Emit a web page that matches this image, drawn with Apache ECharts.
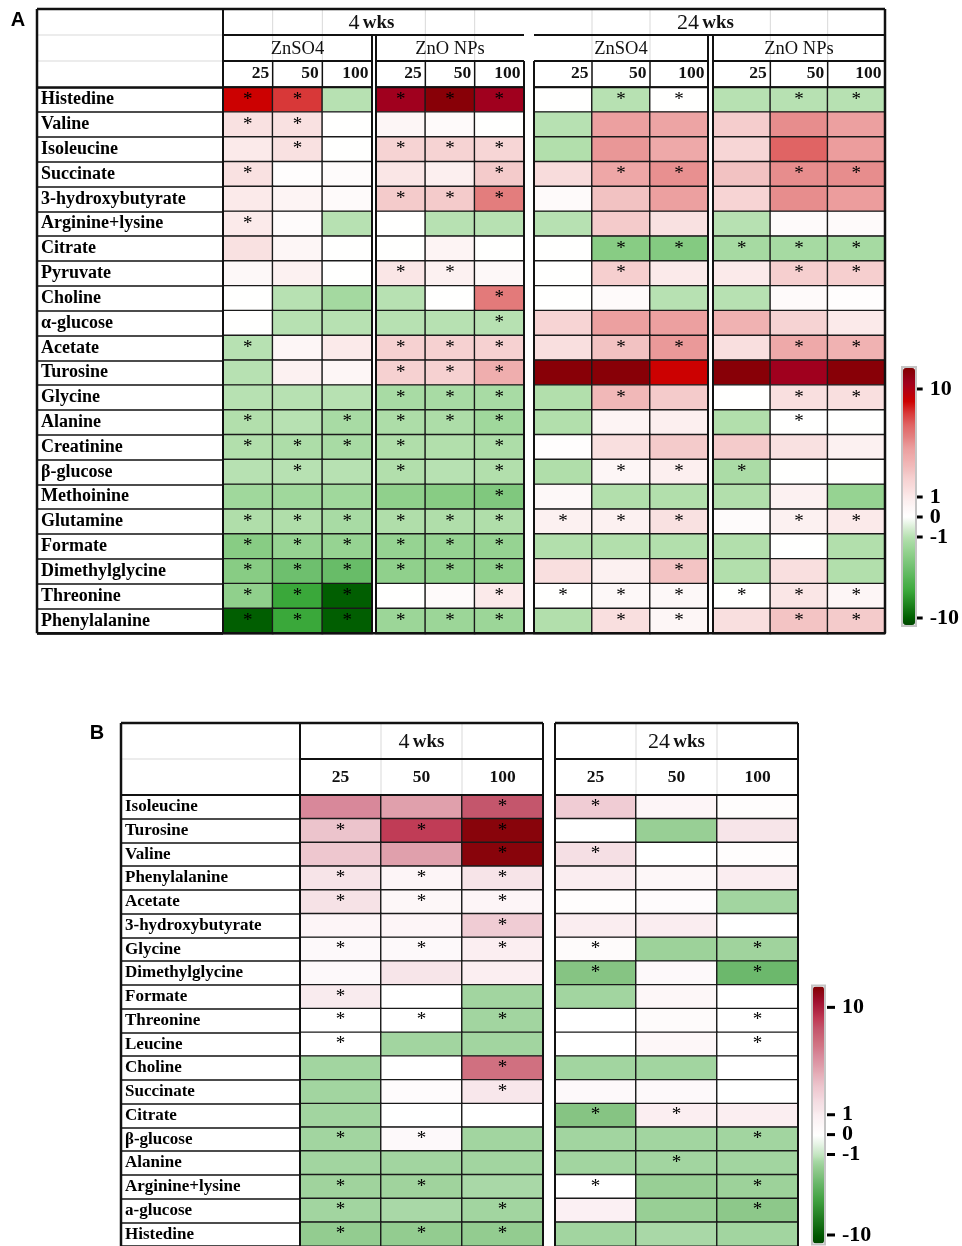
<!DOCTYPE html>
<html>
<head>
<meta charset="utf-8">
<script src="https://cdn.jsdelivr.net/npm/echarts@6/dist/echarts.min.js"></script>
<style>
html, body { margin: 0; padding: 0; background: #ffffff; }
#chart { width: 962px; height: 1246px; }
</style>
</head>
<body>
<div id="chart"></div>
<script>
// ---- tick labels and categories ----
const doses = ['25', '50', '100'];
const timePoints = ['4 wks', '24 wks'];
const treatments = ['ZnSO4', 'ZnO NPs'];
const scaleTicks = [10, 1, 0, -1, -10];

// ---- panel A: fold changes (rows x doses 25/50/100) and significance flags ----
const metabolitesA = ['Histedine', 'Valine', 'Isoleucine', 'Succinate', '3-hydroxybutyrate',
  'Arginine+lysine', 'Citrate', 'Pyruvate', 'Choline', 'α-glucose', 'Acetate', 'Turosine',
  'Glycine', 'Alanine', 'Creatinine', 'β-glucose', 'Methoinine', 'Glutamine', 'Formate',
  'Dimethylglycine', 'Threonine', 'Phenylalanine'];

const foldA4ZnSO4 = [
  [9, 8, -1], [1.5, 1.5, 0], [1, 1.5, 0], [1.5, 0.1, 0.2], [1, 0.6, 0.3],
  [1, 0.2, -1], [1.5, 0.5, 0], [0.4, 0.7, 0], [0, -1, -1.8], [0, -1, -1],
  [-1, 0.5, 1], [-1, 0.7, 0.5], [-1, -1, -1], [-1.2, -1, -1.6], [-1.2, -1.4, -1.6],
  [-1, -1, -1], [-2, -2, -2], [-1.3, -1.3, -1.6], [-3.2, -2.5, -2.5], [-3.2, -4.5, -4.8],
  [-2.8, -7, -10], [-10, -7, -10]];
const starsA4ZnSO4 = ['110', '110', '010', '100', '000', '100', '000', '000', '000', '000', '100',
  '000', '000', '101', '111', '010', '000', '111', '111', '111', '111', '111'];

const foldA4ZnO = [
  [10.5, 11.5, 10.5], [0.5, 0.3, 0], [2.4, 2.4, 2.2], [1.2, 0.8, 2.8], [2.8, 2.8, 6.1],
  [0, -1, -1], [0, 0.6, 0], [1.2, 0.7, 0.4], [-1, 0, 6.2], [-1, -1, -1],
  [2.5, 2.5, 2.5], [2.5, 2.5, 4.2], [-1.6, -1.6, -1.6], [-1.4, -1.4, -2], [-1.3, -1.2, -1.4],
  [-1.2, -1, -1.2], [-2.8, -3.2, -3.6], [-1.3, -1.3, -1.3], [-2.5, -2.5, -2.5], [-2.8, -2.8, -2.8],
  [0, 0.3, 1], [-2.2, -2.2, -2.2]];
const starsA4ZnO = ['111', '000', '111', '001', '111', '000', '000', '110', '001', '001', '111',
  '111', '111', '111', '101', '101', '001', '111', '111', '111', '001', '111'];

const foldA24ZnSO4 = [
  [0, -1, 0], [-1, 5, 4.8], [-1.2, 5.3, 4.5], [1.8, 4.6, 5.5], [0.3, 3.2, 5],
  [-1, 2.8, 1.5], [0, -3.2, -3.4], [0, 2.6, 1], [0, 0.3, -1], [2.3, 5, 5],
  [1.6, 3.2, 5.2], [11.5, 11.5, 9], [-1.2, 3.7, 2.8], [-1.2, 0.6, 0.8], [0.1, 1.6, 2.8],
  [-1.3, 0.5, 0.8], [0.4, -1.2, -1.2], [0.7, 0.7, 1.5], [-1.2, -1.2, -1.2], [1.6, 0.7, 3.1],
  [0, 0.4, 0.4], [-1.2, 1.6, 0.5]];
const starsA24ZnSO4 = ['011', '000', '000', '011', '000', '000', '011', '010', '000', '000', '011',
  '000', '010', '000', '000', '011', '000', '111', '000', '001', '111', '011'];

const foldA24ZnO = [
  [-1, -1, -1], [2.7, 5.6, 5], [2.2, 7, 5.1], [3.2, 5.6, 5.6], [2.3, 5.6, 5.1],
  [-1, 0.3, 0.3], [-1.7, -1.7, -1.7], [1, 2.6, 2.6], [-1, 0.3, 0.1], [4, 2.4, 1],
  [1.6, 4.5, 4], [11.5, 10.5, 11.5], [0, 1.6, 1.6], [-1.2, 0, 0], [2.8, 1.5, 0.7],
  [-1.5, 0, 0], [-1.2, 0.7, -2.5], [0.2, 0.7, 1], [-1.2, 0, -1.2], [-1.2, 1.6, -1.2],
  [0, 1.2, 0.5], [1.6, 3.1, 2.8]];
const starsA24ZnO = ['011', '000', '000', '011', '000', '000', '111', '011', '000', '000', '011',
  '000', '011', '010', '000', '100', '000', '011', '000', '000', '111', '011'];

// ---- panel B ----
const metabolitesB = ['Isoleucine', 'Turosine', 'Valine', 'Phenylalanine', 'Acetate',
  '3-hydroxybutyrate', 'Glycine', 'Dimethylglycine', 'Formate', 'Threonine', 'Leucine',
  'Choline', 'Succinate', 'Citrate', 'β-glucose', 'Alanine', 'Arginine+lysine', 'a-glucose',
  'Histedine'];

const foldB4 = [
  [6, 5, 8.2], [3.5, 9, 11.5], [3.3, 5, 11.5], [1.6, 0.6, 1.6], [1.8, 0.5, 0.6],
  [0.6, 0.6, 3], [0.4, 0.4, 1], [0.4, 1.5, 1], [1.2, 0, -1.8], [0, 0, -1.8],
  [0, -1.8, -1.8], [-1.8, 0, 7], [-1.8, 0.2, 1.4], [-1.8, 0, 0], [-1.8, 0.4, -1.8],
  [-1.8, -1.8, -1.8], [-1.9, -1.9, -1.6], [-1.8, -1.6, -1.8], [-2.4, -2.4, -2.4]];
const starsB4 = ['001', '111', '001', '111', '111', '001', '111', '000', '100', '111', '100',
  '001', '001', '000', '110', '000', '110', '101', '111'];

const foldB24 = [
  [3, 0.6, 0.1], [0, -2.2, 1.5], [2, 0, 0.1], [1.1, 0.5, 1.1], [0.1, 0.2, -1.8],
  [1.1, 1.1, 0], [0.3, -2, -1.9], [-3, 0.4, -4], [-1.8, 0.5, 0], [0, 0.3, 0],
  [0, 0.5, 0], [-1.8, -1.8, 0], [0.4, 0.4, 0], [-3, 1, 1], [-1.8, -1.8, -1.8],
  [-1.8, -1.8, -1.8], [0, -2.2, -2], [0.9, -2.2, -2.7], [-1.8, -1.6, -1.8]];
const starsB24 = ['100', '000', '100', '000', '000', '000', '101', '101', '000', '001', '001',
  '000', '000', '110', '001', '010', '101', '001', '000'];

// ---- colour scale: compressed beyond +/-1 ----
function toScale(v) {
  if (v > 1) return 1 + (v - 1) * 0.6;
  if (v < -1) return -1 + (v + 1) * 0.45;
  return v;
}
function fromScale(t) {
  if (t > 1) return 1 + (t - 1) / 0.6;
  if (t < -1) return -1 + (t + 1) / 0.45;
  return t;
}
const T_MIN = -5.4, T_MAX = 7.45;

const rampA = [
  [-10.7, '#004800'], [-10, '#005e00'], [-7, '#3aa83a'], [-4.5, '#6ebf6e'], [-3.2, '#88cc84'],
  [-2.5, '#96d392'], [-1.6, '#a8dba4'], [-1, '#b7e1b1'], [-0.5, '#dbefd8'], [0, '#ffffff'],
  [0.5, '#fdf6f6'], [1, '#fbeaea'], [1.5, '#f9e1e1'], [2.5, '#f6d1d1'], [3, '#f3c6c6'],
  [4, '#f0b2b2'], [5, '#eca0a0'], [6, '#e48080'], [7, '#e06464'], [8, '#d83838'],
  [9, '#cc0000'], [10.5, '#a0001e'], [11.8, '#800000']];
const rampB = [
  [-10.7, '#004800'], [-10, '#005600'], [-6, '#40a040'], [-4, '#6cb86c'], [-3, '#86c483'],
  [-2.2, '#98cf95'], [-1.8, '#a2d5a0'], [-1.6, '#a9d8a6'], [-1, '#c2e4bf'], [-0.5, '#e2f2e1'],
  [0, '#ffffff'], [0.5, '#fdf7f8'], [1, '#fbeff2'], [1.5, '#f7e5e9'], [2, '#f5dfe4'],
  [3, '#f0ccd4'], [3.5, '#ecc4cc'], [5, '#e0a0ac'], [6, '#d8889a'], [7, '#d07080'],
  [8.2, '#c4566c'], [9, '#c03c56'], [10.5, '#a01030'], [11.8, '#800000']];

function hexToRgb(h) {
  const n = parseInt(h.slice(1), 16);
  return [(n >> 16) & 255, (n >> 8) & 255, n & 255];
}
function rampColor(ramp, v) {
  if (v <= ramp[0][0]) return ramp[0][1];
  for (let i = 1; i < ramp.length; i++) {
    if (v <= ramp[i][0]) {
      const a = ramp[i - 1], b = ramp[i];
      const f = (v - a[0]) / (b[0] - a[0]);
      const ca = hexToRgb(a[1]), cb = hexToRgb(b[1]);
      return 'rgb(' + ca.map((x, k) => Math.round(x + (cb[k] - x) * f)).join(',') + ')';
    }
  }
  return ramp[ramp.length - 1][1];
}
function visualColors(ramp) {
  const out = [];
  const steps = 240;
  for (let i = 0; i <= steps; i++) {
    out.push(rampColor(ramp, fromScale(T_MIN + (T_MAX - T_MIN) * i / steps)));
  }
  return out;
}

// ---- layout ----
const SERIF = "'Liberation Serif', 'DejaVu Serif', serif";
const LA = { x0: 37, xl: 223, y0: 9, y1: 35, y2: 61, top: 87.3, bottom: 633.3,
  blocks: [[223, 372], [376, 524], [534, 708], [713, 885]] };
const LB = { x0: 121, xl: 300, y0: 723, y1: 759, top: 795, rowH: 23.8,
  blocks: [[300, 543], [555, 798]] };
LB.bottom = LB.top + metabolitesB.length * LB.rowH;
const BAR_A = { x: 903, y: 368, w: 12, h: 257 };
const BAR_B = { x: 813, y: 986.5, w: 11, h: 257 };

const grids = [], xAxes = [], yAxes = [], series = [];

function labelGrid(L, names, fontSize) {
  const gi = grids.length;
  grids.push({ left: L.x0, top: L.top, width: L.xl - L.x0, height: L.bottom - L.top });
  xAxes.push({ type: 'value', gridIndex: gi, show: false, min: 0, max: 1 });
  yAxes.push({
    type: 'category', gridIndex: gi, data: names, inverse: true,
    axisLine: { show: false }, axisTick: { show: false },
    splitLine: { show: true, interval: 0, lineStyle: { color: '#111', width: 1.5 } },
    axisLabel: { inside: true, interval: 0, margin: 4, align: 'left', fontFamily: SERIF,
      fontWeight: 'bold', fontSize, color: '#000' }
  });
}

function dataBlock(L, block, names, fold, stars, rightAlign, margin) {
  const gi = grids.length;
  const w = block[1] - block[0];
  grids.push({ left: block[0], top: L.top, width: w, height: L.bottom - L.top });
  xAxes.push({
    type: 'category', gridIndex: gi, data: doses, position: 'top',
    axisLine: { show: false }, axisTick: { show: false }, splitLine: { show: false },
    axisLabel: {
      interval: 0, margin,
      formatter: v => '{d|' + v + '}',
      rich: { d: { width: w / 3 - 7, align: rightAlign ? 'right' : 'center', fontFamily: SERIF,
        fontSize: 17.5, fontWeight: 'bold', color: '#111' } }
    }
  });
  yAxes.push({ type: 'category', gridIndex: gi, data: names, inverse: true, show: false });
  const data = [];
  fold.forEach((row, i) => row.forEach((v, j) => {
    data.push([j, i, toScale(v), stars[i][j] === '1' ? 1 : 0]);
  }));
  series.push({
    type: 'heatmap', xAxisIndex: gi, yAxisIndex: gi, data,
    itemStyle: { borderColor: '#1a1a1a', borderWidth: 1.4 },
    label: { show: true, formatter: p => (p.data[3] ? '*' : ''), color: '#000',
      fontSize: 19, fontFamily: SERIF },
    emphasis: { disabled: true }
  });
}

// colour-bar scale: each label carries its own short tick dash
function scaleAxis(bar) {
  const gi = grids.length;
  const pos = scaleTicks.map(toScale);
  grids.push({ left: bar.x, top: bar.y, width: bar.w, height: bar.h });
  xAxes.push({ type: 'value', gridIndex: gi, show: false, min: 0, max: 1 });
  yAxes.push({
    type: 'value', gridIndex: gi, position: 'right', min: T_MIN, max: T_MAX,
    axisLine: { show: false }, splitLine: { show: false }, axisTick: { show: false },
    axisLabel: {
      show: true, customValues: pos, margin: 3, align: 'left',
      formatter: val => {
        const i = pos.findIndex(p => Math.abs(p - val) < 1e-6);
        return i >= 0 ? '{t|}{g|}{v|' + scaleTicks[i] + '}' : '';
      },
      rich: {
        t: { width: 8, height: 3, backgroundColor: '#000', verticalAlign: 'middle' },
        g: { width: 7, height: 3, verticalAlign: 'middle' },
        v: { fontFamily: SERIF, fontWeight: 'bold', fontSize: 22, color: '#000',
          verticalAlign: 'middle', lineHeight: 22 }
      }
    }
  });
}

// panel A
labelGrid(LA, metabolitesA, 18);
dataBlock(LA, LA.blocks[0], metabolitesA, foldA4ZnSO4, starsA4ZnSO4, true, 5);
dataBlock(LA, LA.blocks[1], metabolitesA, foldA4ZnO, starsA4ZnO, true, 5);
dataBlock(LA, LA.blocks[2], metabolitesA, foldA24ZnSO4, starsA24ZnSO4, true, 5);
dataBlock(LA, LA.blocks[3], metabolitesA, foldA24ZnO, starsA24ZnO, true, 5);
scaleAxis(BAR_A);
// panel B
labelGrid(LB, metabolitesB, 17);
dataBlock(LB, LB.blocks[0], metabolitesB, foldB4, starsB4, false, 9);
dataBlock(LB, LB.blocks[1], metabolitesB, foldB24, starsB24, false, 9);
scaleAxis(BAR_B);

function scaleMap(seriesIndex, bar, ramp) {
  return {
    type: 'continuous', seriesIndex, dimension: 2, min: T_MIN, max: T_MAX,
    calculable: false, hoverLink: false, orient: 'vertical',
    left: bar.x, top: bar.y, itemWidth: bar.w, itemHeight: bar.h, padding: 0,
    inRange: { color: visualColors(ramp) }
  };
}

// ---- table frame and header text ----
const frame = [];
function hLine(x1, x2, y, w, c) {
  frame.push({ type: 'line', z: 50, silent: true, shape: { x1, y1: y, x2, y2: y },
    style: { stroke: c || '#111', lineWidth: w || 2 } });
}
function vLine(x, y1, y2, w, c) {
  frame.push({ type: 'line', z: 50, silent: true, shape: { x1: x, y1, x2: x, y2 },
    style: { stroke: c || '#111', lineWidth: w || 2 } });
}
function text(str, x, y, font) {
  frame.push({ type: 'text', z: 60, silent: true,
    style: { text: str, x, y, align: 'center', verticalAlign: 'middle', font, fill: '#111' } });
}
function timeText(str, x, y) {
  const parts = str.split(' ');
  frame.push({ type: 'text', z: 60, silent: true,
    style: { text: '{n|' + parts[0] + '} {w|' + parts[1] + '}', x, y, align: 'center',
      verticalAlign: 'middle', fill: '#111',
      rich: { n: { fontFamily: SERIF, fontSize: 22, fill: '#111' },
        w: { fontFamily: SERIF, fontSize: 19, fontWeight: 'bold', fill: '#111' } } } });
}
const GRID = '#d9d9d9';
function colEdges(b) {
  const w = (b[1] - b[0]) / 3;
  return [b[0] + w, b[0] + 2 * w];
}

// panel A frame
LA.blocks.forEach(b => colEdges(b).forEach(x => vLine(x, LA.y0, LA.y2, 1, GRID)));
hLine(LA.x0, LA.xl, LA.y1, 1, GRID);
hLine(LA.x0, LA.xl, LA.y2, 1, GRID);
hLine(LA.blocks[0][0], LA.blocks[1][1], LA.y1, 2);
hLine(LA.blocks[2][0], LA.blocks[3][1], LA.y1, 2);
LA.blocks.forEach(b => {
  hLine(b[0], b[1], LA.y2, 2);
  hLine(b[0], b[1], LA.top, 2);
  colEdges(b).forEach(x => vLine(x, LA.y2, LA.top, 1.5));
});
vLine(LA.blocks[0][1], LA.y1, LA.bottom, 2);
vLine(LA.blocks[1][0], LA.y1, LA.bottom, 2);
vLine(LA.blocks[1][1], LA.y2, LA.bottom, 2);
vLine(LA.blocks[2][0], LA.y2, LA.bottom, 2);
vLine(LA.blocks[2][1], LA.y1, LA.bottom, 2);
vLine(LA.blocks[3][0], LA.y1, LA.bottom, 2);
hLine(LA.x0, LA.xl, LA.top, 2);
vLine(LA.xl, LA.y0, LA.bottom, 2);
hLine(LA.x0, LA.blocks[3][1], LA.y0, 2.5);
hLine(LA.x0, LA.blocks[3][1], LA.bottom, 2.5);
vLine(LA.x0, LA.y0, LA.bottom, 2.5);
vLine(LA.blocks[3][1], LA.y0, LA.bottom, 2.5);
timeText(timePoints[0], (LA.blocks[0][0] + LA.blocks[1][1]) / 2 - 2, (LA.y0 + LA.y1) / 2 + 1);
timeText(timePoints[1], (LA.blocks[2][0] + LA.blocks[3][1]) / 2 - 4, (LA.y0 + LA.y1) / 2 + 1);
LA.blocks.forEach((b, i) => text(treatments[i % 2], (b[0] + b[1]) / 2, (LA.y1 + LA.y2) / 2 + 1,
  '18.5px ' + SERIF));

// panel B frame
LB.blocks.forEach(b => colEdges(b).forEach(x => vLine(x, LB.y0, LB.top, 1, GRID)));
hLine(LB.x0, LB.xl, LB.y1, 1, GRID);
LB.blocks.forEach(b => {
  hLine(b[0], b[1], LB.y0, 2.5);
  hLine(b[0], b[1], LB.y1, 2);
  hLine(b[0], b[1], LB.top, 2);
  vLine(b[0], LB.y0, LB.bottom, 2);
  vLine(b[1], LB.y0, LB.bottom, 2);
});
hLine(LB.x0, LB.xl, LB.y0, 2.5);
hLine(LB.x0, LB.xl, LB.top, 2);
hLine(LB.x0, LB.blocks[1][1], LB.bottom, 2.5);
vLine(LB.x0, LB.y0, LB.bottom, 2.5);
LB.blocks.forEach((b, i) => timeText(timePoints[i], (b[0] + b[1]) / 2, (LB.y0 + LB.y1) / 2 + 1));

// colour bar outlines
[BAR_A, BAR_B].forEach(bar => frame.push({ type: 'rect', z: 40, silent: true,
  shape: { x: bar.x - 1, y: bar.y - 1, width: bar.w + 2, height: bar.h + 2 },
  style: { fill: 'none', stroke: '#c4c4c4', lineWidth: 2 } }));

// panel letters
frame.push({ type: 'text', z: 60, silent: true, style: { text: 'A', x: 18, y: 20, align: 'center',
  verticalAlign: 'middle', font: "bold 20px 'Liberation Sans', Arial, sans-serif", fill: '#000' } });
frame.push({ type: 'text', z: 60, silent: true, style: { text: 'B', x: 97, y: 733, align: 'center',
  verticalAlign: 'middle', font: "bold 20px 'Liberation Sans', Arial, sans-serif", fill: '#000' } });

const chart = echarts.init(document.getElementById('chart'), null, { renderer: 'canvas' });
chart.setOption({
  backgroundColor: '#ffffff',
  animation: false,
  grid: grids,
  xAxis: xAxes,
  yAxis: yAxes,
  visualMap: [scaleMap([0, 1, 2, 3], BAR_A, rampA), scaleMap([4, 5], BAR_B, rampB)],
  series,
  graphic: { elements: frame }
});
</script>
</body>
</html>
